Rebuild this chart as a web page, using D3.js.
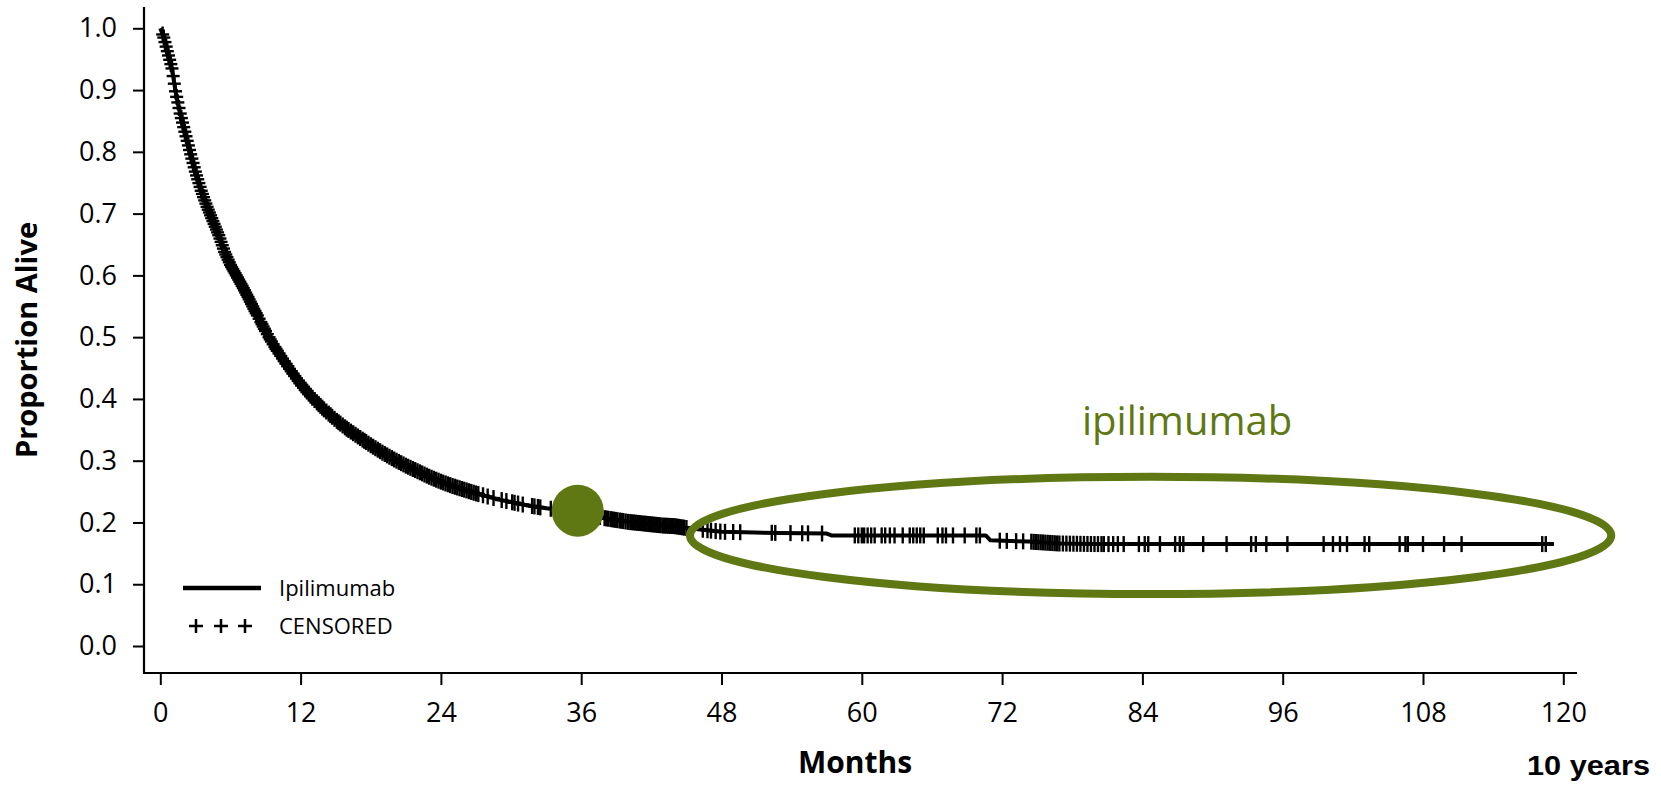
<!DOCTYPE html>
<html>
<head>
<meta charset="utf-8">
<script src="https://cdn.jsdelivr.net/npm/d3@7"></script>
<style>
  body { margin: 0; background: #ffffff; }
  svg { display: block; font-family: "Open Sans", sans-serif; }
</style>
</head>
<body>
<div id="km-container"></div>
<script>
// Kaplan-Meier estimate (months, proportion alive)
const curveMonths = [0, 0.3, 0.6, 1.0, 1.3, 1.7, 2.0, 2.5, 3.0, 3.5, 4.0, 4.5, 5.0, 5.5, 6.0, 6.5, 7.0, 7.5, 8.0, 8.5, 9.0, 9.5,
  10, 11, 12, 13, 14, 15, 16, 17, 18, 19, 20, 21, 22, 23, 24, 25, 26, 27, 28, 29, 30, 31, 32, 33, 34, 35, 36, 37, 38, 39,
  40, 41, 42, 43, 44, 45, 46, 47, 48, 50, 53, 57.0, 57.4, 70.6, 71.0, 74.4, 76.8, 80, 119.2];
const curveSurvival = [1.0, 0.985, 0.963, 0.935, 0.898, 0.862, 0.840, 0.803, 0.768, 0.737, 0.711, 0.688, 0.665, 0.638, 0.617, 0.600, 0.583, 0.565, 0.546, 0.528, 0.510, 0.493,
  0.478, 0.450, 0.424, 0.402, 0.383, 0.366, 0.351, 0.338, 0.325, 0.313, 0.302, 0.292, 0.283, 0.274, 0.266, 0.259, 0.253, 0.247, 0.242, 0.237, 0.233, 0.229, 0.226, 0.223, 0.221, 0.220, 0.217, 0.212, 0.207, 0.204,
  0.201, 0.199, 0.197, 0.195, 0.194, 0.191, 0.189, 0.187, 0.185, 0.184, 0.183, 0.182, 0.179, 0.179, 0.171, 0.169, 0.166, 0.165, 0.165];

// censoring times (months)
const censorEarly = [0.2, 0.4, 0.5, 0.7, 0.8, 1.0, 1.1, 1.3, 1.4, 1.6, 1.7, 1.9, 2.0, 2.2, 2.3, 2.5, 2.6, 2.8, 2.9, 3.1, 3.2, 3.4, 3.6, 3.7, 3.9,
  4.1, 4.2, 4.4, 4.6, 4.8, 4.9, 5.1, 5.3, 5.5, 5.7, 5.9, 6.1, 6.3, 6.5, 6.7, 6.9, 7.1, 7.3, 7.5, 7.7, 7.9, 8.1, 8.3, 8.6, 8.8, 9.0, 9.3, 9.5, 9.8,
  10.0, 10.3, 10.6, 10.9, 11.2, 11.5, 11.8, 12.1, 12.4, 12.7, 13.0, 13.4, 13.7, 14.0, 14.4, 14.7, 15.1, 15.4, 15.8, 16.1, 16.5, 16.9, 17.3, 17.6,
  18.0, 18.4, 18.8, 19.2, 19.6, 20.0, 20.4, 20.8, 21.2, 21.6, 22.0, 22.4, 22.8, 23.2, 23.6, 24.0, 24.4, 24.8, 25.2, 25.6, 26.0, 26.4, 26.8,
  27.2, 27.6, 28.0, 28.5];
const censorEarlyDense = [0.3, 0.6, 0.9, 1.2, 1.5, 1.8, 2.1, 2.4, 2.7, 3.0, 3.3, 3.5, 3.8, 4.0, 4.3, 4.5, 4.7, 5.0, 5.2, 5.4, 5.6, 5.8,
  6.0, 6.2, 6.4, 6.6, 6.8, 7.0, 7.2, 7.4, 7.6, 7.8, 8.0, 8.2, 8.45, 8.7, 8.9, 9.15, 9.4, 9.65, 9.9, 10.15, 10.45, 10.75, 11.05, 11.35,
  11.65, 11.95, 12.25, 12.55, 12.85, 13.2, 13.55, 13.85, 14.2, 14.55, 14.9, 15.25, 15.6, 15.95, 16.3, 16.7, 17.1, 17.45, 17.8, 18.2,
  18.6, 19.0, 19.4, 19.8, 20.2, 20.6, 21.0, 21.4, 21.8, 22.2, 22.6, 23.0, 23.4, 23.8, 24.2, 24.6, 25.0, 25.4, 25.8, 26.2, 26.6, 27.0];
const censorMid = [29.2, 29.6, 30.1, 30.3, 30.6, 31.0, 31.8, 32.0, 32.3, 32.5, 33.4, 34.0, 34.8, 35.5, 36.3, 37.0, 37.6, 38.0, 38.3, 38.5,
  38.8, 39.1, 39.3, 39.6, 40.0, 40.2, 40.5, 40.8, 41.1, 41.3, 41.6, 41.9, 42.2, 42.5, 42.8, 43.0, 43.3, 43.6, 43.9, 44.2, 44.5, 44.8, 45.0,
  46.4, 46.8, 47.1, 47.5, 47.9, 48.3, 49.0, 49.6, 52.3, 52.6, 53.9, 54.9, 55.4, 56.6,
  38.15, 38.65, 38.95, 39.45, 39.8, 40.35, 40.65, 40.95, 41.45, 41.75, 42.05, 42.35, 42.65, 43.15, 43.45, 43.75, 44.05, 44.35, 44.65];
const censorLate = [59.4, 59.7, 60.0, 60.2, 60.5, 60.8, 61.1, 61.7, 62.0, 62.4, 62.8, 63.5, 64.1, 64.4, 64.7, 65.0, 65.3, 66.5, 66.9, 67.2,
  67.8, 68.8, 69.8, 70.1, 71.8, 72.4, 73.2, 73.8, 74.5, 74.7, 74.9, 75.1, 75.3, 75.5, 75.7, 75.9, 76.1, 76.3, 76.5, 76.7, 76.9, 77.2, 77.5,
  77.8, 78.1, 78.4, 78.7, 79.0, 79.3, 79.6, 79.9, 80.2, 80.5, 80.7, 81.1, 81.5, 81.9, 82.4, 83.7, 84.2, 84.5, 85.5, 86.8, 87.2, 87.5, 89.2,
  91.2, 93.3, 93.7, 94.6, 96.4, 99.5, 100.3, 100.9, 101.5, 103.0, 103.4, 106.0, 106.5, 106.7, 108.0, 109.8, 111.3, 118.2, 118.5];

const xTicks = [0, 12, 24, 36, 48, 60, 72, 84, 96, 108, 120];
const yTicks = [0, 0.1, 0.2, 0.3, 0.4, 0.5, 0.6, 0.7, 0.8, 0.9, 1.0];

// highlighted 3-year point and the plateau annotation
const markMonth = 35.7, markSurvival = 0.219;
const plateauMonth = 84.7, plateauSurvival = 0.179, plateauHalfMonths = 39.4, plateauHalfSurvival = 0.095;

const width = 1661, height = 793;
const green = "#5f7814";

const x = d3.scaleLinear().domain([0, 120]).range([160.3, 1563.3]);
const y = d3.scaleLinear().domain([0, 1]).range([646, 28.3]);

const svg = d3.select("#km-container")
  .append("svg")
  .attr("width", width)
  .attr("height", height);

// axes
const axisX = 144, axisY = 673;

const gx = svg.append("g")
  .attr("transform", "translate(0," + axisY + ")")
  .call(d3.axisBottom(x).tickValues(xTicks).tickSize(12).tickPadding(18).tickFormat(d3.format("d")));
gx.select(".domain").remove();

const gy = svg.append("g")
  .attr("transform", "translate(" + axisX + ",0)")
  .call(d3.axisLeft(y).tickValues(yTicks).tickSize(11).tickPadding(16).tickFormat(d3.format(".1f")));
gy.select(".domain").remove();

svg.selectAll(".tick line").attr("stroke", "#000").attr("stroke-width", 2);
svg.selectAll(".tick text")
  .attr("fill", "#000")
  .style("font-family", "'Open Sans', sans-serif")
  .style("font-size", "27px");

svg.append("line")
  .attr("x1", axisX).attr("x2", axisX)
  .attr("y1", 7).attr("y2", axisY + 1)
  .attr("stroke", "#000").attr("stroke-width", 2.2);
svg.append("line")
  .attr("x1", axisX - 1).attr("x2", 1577)
  .attr("y1", axisY).attr("y2", axisY)
  .attr("stroke", "#000").attr("stroke-width", 2.2);

// survival curve
const points = curveMonths.map((m, i) => ({ month: m, surv: curveSurvival[i] }));

const line = d3.line()
  .x(d => x(d.month))
  .y(d => y(d.surv));

svg.append("path")
  .datum(points)
  .attr("d", line)
  .attr("fill", "none")
  .attr("stroke", "#000")
  .attr("stroke-width", 4)
  .attr("stroke-linejoin", "round");

function survivalAt(t) {
  const i = d3.bisectRight(curveMonths, t);
  if (i <= 0) return curveSurvival[0];
  if (i >= curveMonths.length) return curveSurvival[curveSurvival.length - 1];
  const m0 = curveMonths[i - 1], m1 = curveMonths[i];
  const s0 = curveSurvival[i - 1], s1 = curveSurvival[i];
  return s0 + (s1 - s0) * (t - m0) / (m1 - m0);
}

// censor marks
const censored = censorEarly.concat(censorEarlyDense, censorMid, censorLate);
const marks = svg.append("g").attr("stroke", "#000").attr("stroke-width", 2.4);
const cross = marks.selectAll("g").data(censored).enter()
  .append("g")
  .attr("transform", d => "translate(" + x(d) + "," + y(survivalAt(d)) + ")");
cross.append("line").attr("x1", 0).attr("x2", 0).attr("y1", -8).attr("y2", 8);
cross.append("line").attr("x1", -6.5).attr("x2", 6.5).attr("y1", 0).attr("y2", 0);

// annotations
svg.append("circle")
  .attr("cx", x(markMonth))
  .attr("cy", y(markSurvival))
  .attr("r", 26)
  .attr("fill", green);

svg.append("ellipse")
  .attr("cx", x(plateauMonth))
  .attr("cy", y(plateauSurvival))
  .attr("rx", x(plateauHalfMonths) - x(0))
  .attr("ry", y(0) - y(plateauHalfSurvival))
  .attr("fill", "none")
  .attr("stroke", green)
  .attr("stroke-width", 8);

svg.append("text")
  .attr("x", 1082)
  .attr("y", 435)
  .attr("fill", green)
  .style("font-size", "40px")
  .text("ipilimumab");

// axis titles
svg.append("text")
  .attr("transform", "translate(37,340) rotate(-90)")
  .attr("text-anchor", "middle")
  .style("font-size", "29px")
  .style("font-weight", "bold")
  .text("Proportion Alive");

svg.append("text")
  .attr("x", 855)
  .attr("y", 773)
  .attr("text-anchor", "middle")
  .style("font-size", "30px")
  .style("font-weight", "bold")
  .text("Months");

svg.append("text")
  .attr("x", 1527)
  .attr("y", 775)
  .attr("textLength", 123)
  .attr("lengthAdjust", "spacingAndGlyphs")
  .style("font-family", "'Liberation Sans', Arial, sans-serif")
  .style("font-size", "27px")
  .style("font-weight", "bold")
  .text("10 years");

// legend
const legend = svg.append("g");
legend.append("line")
  .attr("x1", 183).attr("x2", 261)
  .attr("y1", 588).attr("y2", 588)
  .attr("stroke", "#000").attr("stroke-width", 4.5);
legend.append("text")
  .attr("x", 279).attr("y", 596)
  .style("font-size", "22px")
  .text("Ipilimumab");

[196, 221, 245].forEach(cx => {
  legend.append("line").attr("x1", cx - 7).attr("x2", cx + 7).attr("y1", 626).attr("y2", 626)
    .attr("stroke", "#000").attr("stroke-width", 2.5);
  legend.append("line").attr("x1", cx).attr("x2", cx).attr("y1", 619).attr("y2", 633)
    .attr("stroke", "#000").attr("stroke-width", 2.5);
});
legend.append("text")
  .attr("x", 279).attr("y", 634)
  .style("font-size", "22px")
  .text("CENSORED");
</script>
</body>
</html>
